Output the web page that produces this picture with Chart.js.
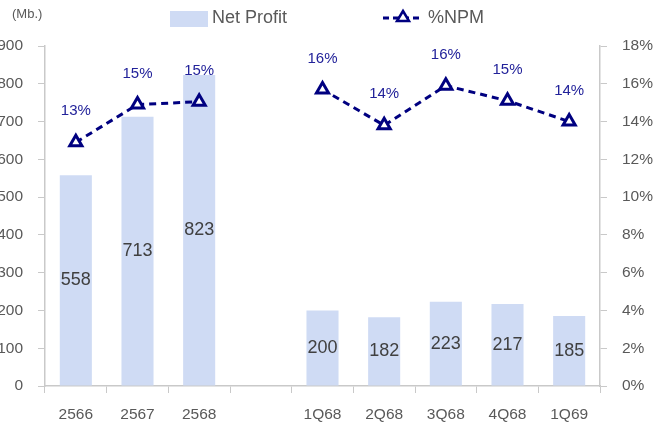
<!DOCTYPE html>
<html>
<head>
<meta charset="utf-8">
<script src="https://cdn.jsdelivr.net/npm/chart.js@4"></script>
<style>
  html, body { margin: 0; padding: 0; background: #fff; }
  #wrap { position: relative; width: 668px; height: 424px; }
</style>
</head>
<body>
<div id="wrap"><canvas id="npChart"></canvas></div>
<script>
// ข้อมูลกำไรสุทธิ / %NPM
const labels = ['2566', '2567', '2568', '', '1Q68', '2Q68', '3Q68', '4Q68', '1Q69'];
const netProfit = [558, 713, 823, null, 200, 182, 223, 217, 185];
const npm = [12.9, 14.9, 15.05, null, 15.7, 13.8, 15.9, 15.1, 14.0];
const leftTicks = [0, 100, 200, 300, 400, 500, 600, 700, 800, 900];
const rightTicks = [0, 2, 4, 6, 8, 10, 12, 14, 16, 18];

const BAR_COLOR = '#cfdbf4';
const LINE_COLOR = '#000080';
const TEXT_GRAY = '#595959';
const AXIS_GRAY = '#c9c9c9';
const FONT = '"Liberation Sans", Arial, sans-serif';

// ป้ายค่า + legend + หน่วย
const labelPlugin = {
    id: 'labelPlugin',
    afterDatasetsDraw(chart) {
        const ctx = chart.ctx;
        ctx.save();
        // ค่าในแท่ง
        const barMeta = chart.getDatasetMeta(1);
        ctx.font = '18px ' + FONT;
        ctx.fillStyle = '#404040';
        ctx.textAlign = 'center';
        ctx.textBaseline = 'middle';
        barMeta.data.forEach(function (bar, i) {
            if (netProfit[i] === null) return;
            ctx.fillText(String(netProfit[i]), bar.x, (bar.y + bar.base) / 2);
        });
        // %NPM
        const lineMeta = chart.getDatasetMeta(0);
        ctx.font = '15px ' + FONT;
        ctx.fillStyle = '#22229a';
        lineMeta.data.forEach(function (pt, i) {
            if (npm[i] === null) return;
            ctx.fillText(Math.round(npm[i]) + '%', pt.x, pt.y - 31);
        });
        // หน่วย
        ctx.font = '13px ' + FONT;
        ctx.fillStyle = TEXT_GRAY;
        ctx.textAlign = 'left';
        ctx.fillText('(Mb.)', 12, 14);
        // legend
        ctx.fillStyle = BAR_COLOR;
        ctx.fillRect(170, 11, 38, 16);
        ctx.font = '18px ' + FONT;
        ctx.fillStyle = TEXT_GRAY;
        ctx.fillText('Net Profit', 212, 18);
        ctx.strokeStyle = LINE_COLOR;
        ctx.lineWidth = 3;
        ctx.setLineDash([6, 4]);
        ctx.beginPath();
        ctx.moveTo(383, 18);
        ctx.lineTo(422, 18);
        ctx.stroke();
        ctx.setLineDash([]);
        ctx.fillStyle = '#fff';
        ctx.beginPath();
        ctx.moveTo(403, 11);
        ctx.lineTo(409, 21);
        ctx.lineTo(397, 21);
        ctx.closePath();
        ctx.fill();
        ctx.lineWidth = 2.5;
        ctx.stroke();
        ctx.fillStyle = TEXT_GRAY;
        ctx.fillText('%NPM', 428, 18);
        ctx.restore();
    }
};

const ctx = document.getElementById('npChart').getContext('2d');
new Chart(ctx, {
    type: 'bar',
    data: {
        labels: labels,
        datasets: [
            {
                type: 'line',
                label: '%NPM',
                data: npm,
                yAxisID: 'y1',
                borderColor: LINE_COLOR,
                borderWidth: 3,
                borderDash: [7, 5],
                backgroundColor: '#fff',
                pointStyle: 'triangle',
                pointRadius: 7,
                pointBorderWidth: 3,
                pointBackgroundColor: '#fff',
                pointBorderColor: LINE_COLOR,
                spanGaps: false,
                order: 0
            },
            {
                type: 'bar',
                label: 'Net Profit',
                data: netProfit,
                yAxisID: 'y',
                backgroundColor: BAR_COLOR,
                barPercentage: 0.52,
                categoryPercentage: 1,
                order: 1
            }
        ]
    },
    options: {
        responsive: true,
        maintainAspectRatio: false,
        animation: false,
        layout: { padding: { top: 46, left: 0, right: 0, bottom: 0 } },
        plugins: {
            legend: { display: false },
            tooltip: { enabled: false }
        },
        scales: {
            x: {
                offset: true,
                grid: {
                    display: true,
                    offset: true,
                    drawOnChartArea: false,
                    drawTicks: true,
                    tickLength: 7,
                    color: AXIS_GRAY
                },
                border: { color: AXIS_GRAY, width: 1.5 },
                ticks: {
                    color: TEXT_GRAY,
                    font: { family: FONT, size: 15.5 },
                    padding: 12,
                    maxRotation: 0,
                    autoSkip: false
                },
                afterFit: function (scale) { scale.height = 38; }
            },
            y: {
                position: 'left',
                min: 0,
                max: 900,
                afterBuildTicks: function (scale) {
                    scale.ticks = leftTicks.map(function (v) { return { value: v }; });
                },
                grid: {
                    drawOnChartArea: false,
                    drawTicks: true,
                    tickLength: 7,
                    color: AXIS_GRAY
                },
                border: { color: AXIS_GRAY, width: 1.5 },
                ticks: {
                    color: TEXT_GRAY,
                    font: { family: FONT, size: 15.5 },
                    padding: 15
                },
                afterFit: function (scale) { scale.width = 45; }
            },
            y1: {
                position: 'right',
                min: 0,
                max: 18,
                afterBuildTicks: function (scale) {
                    scale.ticks = rightTicks.map(function (v) { return { value: v }; });
                },
                grid: {
                    drawOnChartArea: false,
                    drawTicks: true,
                    tickLength: 7,
                    color: AXIS_GRAY
                },
                border: { color: AXIS_GRAY, width: 1.5 },
                ticks: {
                    color: TEXT_GRAY,
                    font: { family: FONT, size: 15.5 },
                    padding: 15,
                    callback: function (value) { return value + '%'; }
                },
                afterFit: function (scale) { scale.width = 68; }
            }
        }
    },
    plugins: [labelPlugin]
});
</script>
</body>
</html>
